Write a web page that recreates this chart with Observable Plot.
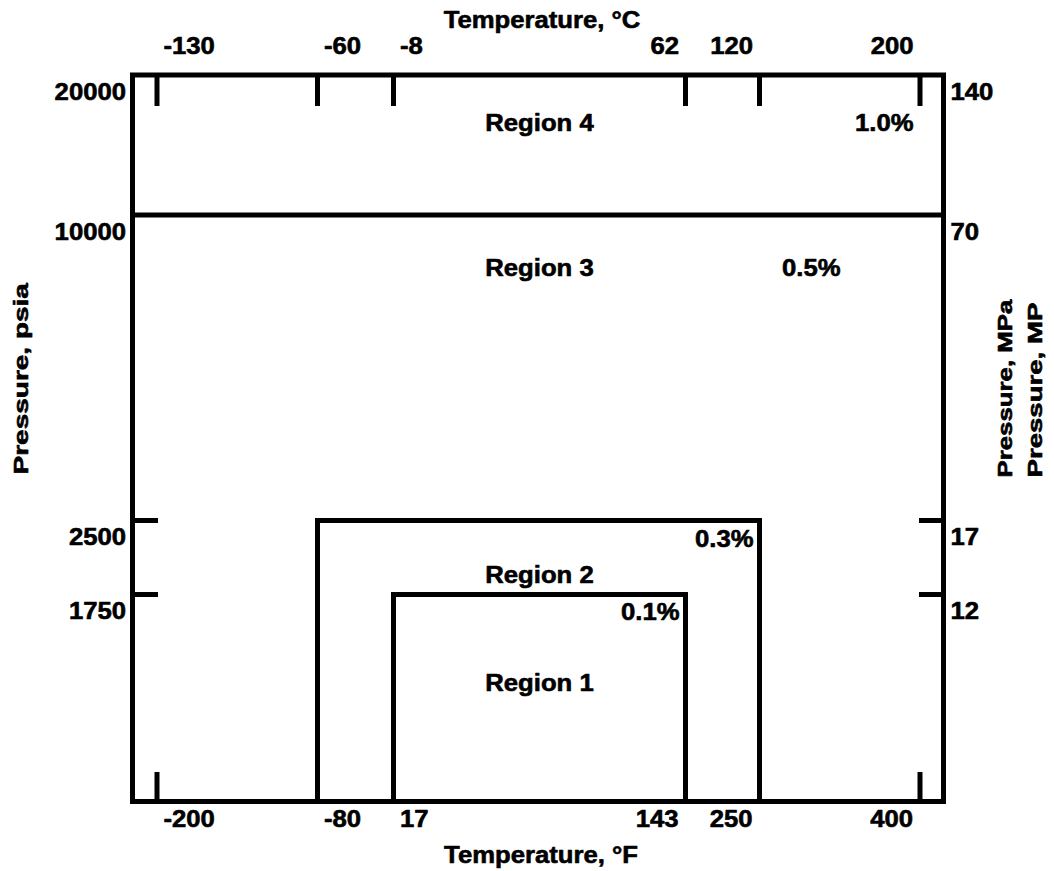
<!DOCTYPE html>
<html>
<head>
<meta charset="utf-8">
<script src="https://cdn.jsdelivr.net/npm/d3@7"></script>
<script src="https://cdn.jsdelivr.net/npm/@observablehq/plot@0.6"></script>
<style>
  html, body { margin: 0; padding: 0; background: #fff; }
</style>
</head>
<body>
<div id="chart"></div>
<script>
// ---------------- data ----------------
const tempF = [-200, -80, 17, 143, 250, 400];
const tempC = [-130, -60, -8, 62, 120, 200];
const pressurePsia = [20000, 10000, 2500, 1750];
const pressureMPa = [140, 70, 17, 12];
const pressureFloor = 0;
const regionNames = ["Region 1", "Region 2", "Region 3", "Region 4"];
const regionTmin = [17, -80, null, null];
const regionTmax = [143, 250, null, null];
const regionPmax = [1750, 2500, 10000, 20000];
const regionTolerance = ["0.1%", "0.3%", "0.5%", "1.0%"];
const titleTop = "Temperature, °C";
const titleBottom = "Temperature, °F";
const titleLeft = "Pressure, psia";
const titleRight = ["Pressure, MPa", "Pressure, MP"];

// ---------------- layout ----------------
const W = 1054, H = 871;
const box = {left: 132, right: 943, top: 74.5, bottom: 801};
const midY = (box.top + box.bottom) / 2;
const xRange = [156.5, 317, 393, 685, 759, 919.5];           // pixel for each tempF
const yDomain = [pressureFloor, ...pressurePsia.slice().sort((a, b) => a - b)];
const yRange = [801, 594, 520, 214.5, 74.5];                 // pixel for each yDomain value
const regionDy = [96.5, 62, 60.5, 56];
const tolDx = [-6, -6, -79.5, -6.5];
const tolDy = [25, 26.5, 60.5, 56];
const SW = 5;
const hStretch = 1.07;
const vStretch = {"Pressure, psia": 1.4, "Pressure, MPa": 1.29, "Pressure, MP": 1.38};

// ---------------- derived tables ----------------
const regions = regionNames.map((name, i) => ({
  name, tmin: regionTmin[i], tmax: regionTmax[i], pmax: regionPmax[i], tol: regionTolerance[i]
}));
const boxedRegions = regions.filter(r => r.tmin != null);
const boundaryPoints = boxedRegions.flatMap(r => [
  {region: r.name, t: r.tmin, p: pressureFloor},
  {region: r.name, t: r.tmin, p: r.pmax},
  {region: r.name, t: r.tmax, p: r.pmax},
  {region: r.name, t: r.tmax, p: pressureFloor}
]);
const maxP = d3.max(pressurePsia);
const fullWidthBounds = regions.filter(r => r.tmin == null && r.pmax < maxP).map(r => r.pmax);
const boundaryT = new Set(boxedRegions.flatMap(r => [r.tmin, r.tmax]));
const bottomTicks = tempF.filter(t => !boundaryT.has(t));
const sideTicks = boxedRegions.map(r => r.pmax);
const tempRows = tempF.map((f, i) => ({f, c: tempC[i], left: i < tempF.length / 2}));
const presRows = pressurePsia.map((p, i) => ({p, mpa: pressureMPa[i]}));
const labelT = (regionTmin[0] + regionTmax[0]) / 2;
const tMaxAll = d3.max(tempF);

const marks = [
  Plot.frame({stroke: "black", strokeWidth: SW}),
  Plot.ruleY(fullWidthBounds, {strokeWidth: SW}),
  Plot.line(boundaryPoints, {x: "t", y: "p", z: "region", stroke: "black", strokeWidth: SW,
    strokeLinejoin: "miter", strokeLinecap: "butt", strokeMiterlimit: 10}),
  // ticks
  Plot.ruleX(tempF, {strokeWidth: SW, insetBottom: box.bottom - 106}),
  Plot.ruleX(bottomTicks, {strokeWidth: SW, insetTop: 772 - box.top}),
  Plot.ruleY(sideTicks, {strokeWidth: SW, insetRight: box.right - 158}),
  Plot.ruleY(sideTicks, {strokeWidth: SW, insetLeft: 919 - box.left}),
  // top tick labels (°C)
  Plot.text(tempRows.filter(d => d.left), {x: "f", text: d => String(d.c), frameAnchor: "top",
    lineAnchor: "bottom", textAnchor: "start", dx: 6.5, dy: 53 - box.top}),
  Plot.text(tempRows.filter(d => !d.left), {x: "f", text: d => String(d.c), frameAnchor: "top",
    lineAnchor: "bottom", textAnchor: "end", dx: -6.5, dy: 53 - box.top}),
  // bottom tick labels (°F)
  Plot.text(tempRows.filter(d => d.left), {x: "f", text: d => String(d.f), frameAnchor: "bottom",
    lineAnchor: "bottom", textAnchor: "start", dx: 6.5, dy: 826.5 - box.bottom}),
  Plot.text(tempRows.filter(d => !d.left), {x: "f", text: d => String(d.f), frameAnchor: "bottom",
    lineAnchor: "bottom", textAnchor: "end", dx: -7, dy: 826.5 - box.bottom}),
  // left / right pressure labels
  Plot.text(presRows, {y: "p", text: d => String(d.p), frameAnchor: "left", lineAnchor: "bottom",
    textAnchor: "end", dx: -6.5, dy: 24.5}),
  Plot.text(presRows, {y: "p", text: d => String(d.mpa), frameAnchor: "right", lineAnchor: "bottom",
    textAnchor: "start", dx: 7, dy: 24.5}),
  // region labels and tolerances
  ...regions.map((r, i) => Plot.text([r], {x: () => labelT, y: "pmax", text: "name",
    lineAnchor: "bottom", textAnchor: "middle", dy: regionDy[i]})),
  ...regions.map((r, i) => Plot.text([r], {x: d => d.tmax ?? tMaxAll, y: "pmax", text: "tol",
    lineAnchor: "bottom", textAnchor: "end", dx: tolDx[i], dy: tolDy[i]})),
  // axis titles
  Plot.text([titleTop], {text: d => d, frameAnchor: "top", lineAnchor: "bottom", dx: 4, dy: 27.3 - box.top}),
  Plot.text([titleBottom], {text: d => d, frameAnchor: "bottom", lineAnchor: "bottom", dx: 3, dy: 862.3 - box.bottom}),
  Plot.text([titleLeft], {text: d => d, frameAnchor: "left", rotate: -90, lineAnchor: "bottom",
    textAnchor: "start", fontSize: 20, dx: 27.5 - box.left, dy: 474 - midY}),
  Plot.text([titleRight[0]], {text: d => d, frameAnchor: "right", rotate: -90, lineAnchor: "bottom",
    textAnchor: "start", fontSize: 20, dx: 1011.5 - box.right, dy: 477 - midY}),
  Plot.text([titleRight[1]], {text: d => d, frameAnchor: "right", rotate: -90, lineAnchor: "bottom",
    textAnchor: "start", fontSize: 20, dx: 1041.5 - box.right, dy: 477 - midY})
];

const chart = Plot.plot({
  width: W,
  height: H,
  marginLeft: box.left,
  marginRight: W - box.right,
  marginTop: box.top,
  marginBottom: H - box.bottom,
  style: {fontFamily: "'Liberation Sans', Arial, Helvetica, sans-serif", fontWeight: "bold",
    fontSize: "24px", color: "black", background: "white"},
  x: {type: "linear", domain: tempF, range: xRange, axis: null},
  y: {type: "linear", domain: yDomain, range: yRange, axis: null},
  marks
});

// the reference lettering is slightly stretched along its writing direction and heavier
chart.querySelectorAll("text").forEach(t => {
  const tr = t.getAttribute("transform") || "";
  const s = tr.includes("rotate") ? (vStretch[t.textContent] ?? 1.35) : hStretch;
  t.setAttribute("transform", `${tr} scale(${s},1)`);
  t.setAttribute("stroke", "black");
  t.setAttribute("stroke-width", "0.6");
  t.setAttribute("stroke-linejoin", "round");
});

document.getElementById("chart").appendChild(chart);
</script>
</body>
</html>
